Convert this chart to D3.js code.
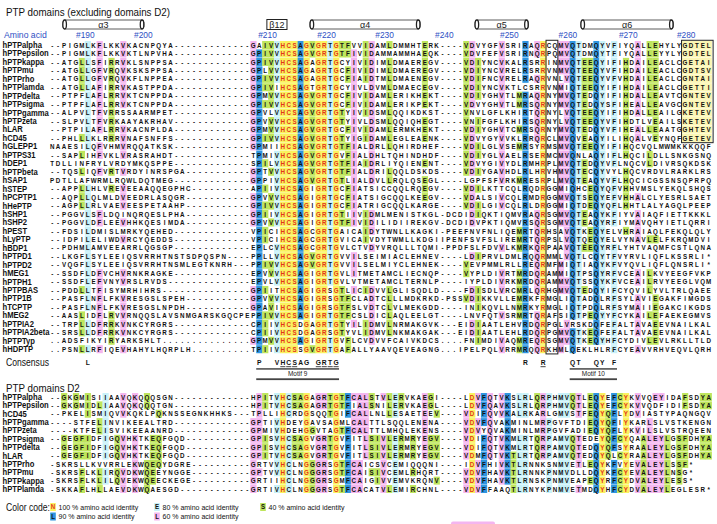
<!DOCTYPE html>
<html><head><meta charset="utf-8">
<script src="https://cdn.jsdelivr.net/npm/d3@7"></script>
<style>body{margin:0;background:#fff}svg{display:block}</style>
</head><body>
<svg id="c" width="717" height="524"></svg>
<script>
// ---------------- DATA ----------------
const upperNames = ["hPTPalpha","hPTPepsilon","hPTPkappa","hPTPmu","hPTPrho","hPTPlamda","hPTPdelta","hPTPsigma","hPTPgamma","hPTPzeta","hLAR","hCD45","hGLEPP1","hPTPS31","hDEP1","hPTPbeta","hSAP1","hSTEP","hPCPTP1","hHePTP","hSHP1","hSHP2","hPEST","hLyPTP","hBDP1","hPTPD1","hPTPD2","hMEG1","hPTPH1","hPTPBAS","hPTP1B","hTCPTP","hMEG2","hPTPIA2","hPTPIA2beta","hPTPTyp","hHDPTP"];
const upperNterm = ["--PIGMLKFLKKVKACNPQYA","--PIGMLKFLKKVKTLNPVHA","--ATGLLSFIRRVKLSNPPSA","--ATGLLGFVRQVKSKSPPSA","--ATGLLGFVRQVKFLNPPEA","--ATGLLAFIRRVKASTPPDA","--PTPFLAFLRRVKTCNPPDA","--PTPFLAFLRRVKTCNPPDA","--ALPVLTFVRRSSAARMPET","--SLPVLTFVRKAAYAKRHAV","--PTPILAFLRRVKACNPLDA","--PHLLLKLRRRVNAFSNFFS","NAAESILQFVHMVRQQATKSK","--SAPLIHFVKLVRASRAHDT","TDLLINFRYLVRDYMKQSPPE","--TQSLIQFVRTVRDYINRSPGA","PDTLLAFWRMLRQWLDQTMEG","--APPLLHLVREVEEAAQQEGPHC","--AQPLLQLMLDVEEDRLASQGR","--AGPLLRLVAEVEESPETAAHP","--PGGVLSFLDQINQRQESLPHA","--PGGVLDFLEEVHHKQESIMDA","--FDSILDMISLMRKYQEHED","--IDPILELIWDVRCYQEDDS","--PDHMLAMVEEARRLQGSGP","--LKGFLSYLEEIQSVRRHTNSTSDPQSPN","--VQGFLSYLEEIQSVRRHTNSMLEGTKNRH","--SSDFLDFVCHVRNKRAGKE","--SSDFLEFVNYVRSLRVDS","--PDDLLTFISYMRHIHRS","--PASFLNFLFKVRESGSLSPEH","--PASFLNFLFKVRESGSLNPDH","--AASLIDFLRVVRNQQSLAVSNMGARSKGQCPE","--TRPLLDFRRKVNKCYRGRS","--SRSLLDFRRKVNKCYRGRS","..ADSFIKYIRYARKSHLT","..PSNLLRFIQEVHAHYLHQRPLH"];
const upperGapChar = ["-","-","-","-","-","-","-","-","-","-","-","-","-","-","-","-","-","-","-","-","-","-","-","-","-","-","-","-","-","-","-","-","-","-","-",".","."];
const upperCore = ["GAIVVHCSAGVGRTGTFV","GPIVVHCSAGVGRTGTFI","GPIVVHCSAGAGRTGCYI","GPLVVHCSAGAGRTGCFI","GPIVVHCSAGAGRTGCFI","GPIVIHCSAGTGRTGCYI","GPMVVHCSAGVGRTGCFI","GPIVVHCSAGVGRTGCFI","GPVLVHCSAGVGRTGTYI","GPVVVHCSAGVGRTGTYI","GPMVVHCSAGVGRTGCFI","GPIVVHCSAGVGRTGTYI","GPMIIHCSAGVGRTGTFI","TPMIVHCSAGVGRTGVFI","SPILVHCSAGVGRTGTFI","GPTVVHCSAGVGRTGTFI","GPPIVHCSAGVGRTGTLI","APIIVHCSAGIGRTGCFI","GPVVVHCSAGIGRTGCFI","GPIVVHCSAGIGRTGCFI","GPIIVHCSAGIGRTGTII","GPVVVHCSAGIGRTGTFI","VPICIHCSAGCGRTGAIC","VPICIHCSAGCGRTGVIC","EPLCVHCSAGCGRTGVLC","PPLLVHCSAGVGRTGVVI","PPIVVHCSAGVGRTGVVI","EPVVVHCSAGIGRTGVLI","EPVLVHCSAGIGRTGVLV","GPIITHCSAGIGRSGTLI","GPVVVHCSAGIGRSGTFC","GPAVIHCSAGIGRSGTFS","PPIVVHCSAGIGRTGTFC","CPIIVHCSDGAGRTGTYI","CPIIVHCSDGAGRSGTYV","GPMVVHCSAGIGRTGVFL","TPIIVHCSSGVGRTGAFA"];
const upperCterm = [
"VIDAMLDMMHTERK----VDVYGFVSRIRAQRCQMVQTDMQYVFIYQALLEHYLYGDTEL",
"VIDAMMAMMHAEQK----VDVFEFVSRIRNQRPQMVQTDMQYTFIYQALLEYYLYGDTEL",
"VIDIMLDMAEREGV----VDIYNCVKALRSRRINMVQTEEQYIFIHDAILEACLCGETAI",
"VIDIMLDMAEREGV----VDIYNCVRELRSRRVNMVQTEEQYVFIHDAILEACLCGDTSV",
"AIDTMLDMAENEGV----VDIFNCVRELRAQRVNLVQTEEQYVFVHDAILEACLCGNTAI",
"VLDVMLDMAECEGV----VDIYNCVKTLCSRRVNMIQTEEQYIFIHDAILEACLCGETTI",
"VIDAMLERIKHEKT----VDIYGHVTLMRAQRNYMVQTEDQYIFIHDALLEAVTCGNTEV",
"VIDAMLERIKPEKT----VDVYGHVTLMRSQRNYMVQTEDQYSFIHEALLEAVGCGNTEV",
"VIDSMLQQIKDKST----VNVLGFLKHIRTQRNYLVQTEEQYIFIHDALLEAILGKETEV",
"VLDSMLQQIQHEGT----VNIFGFLKHIRSQRNYLVQTEEQYVFIHDTLVEAILSKETEV",
"VIDAMLERMKHEKT----VDIYGHVTCMRSQRNYMVQTEDQYVFIHEALLEAATGGHTEV",
"GIDAMLEGLEAENK----VDVYGYVVKLRRQRCLMVQVEAQYILIHQALVEYNQFGETEV",
"ALDRLLQHIRDHEF----VDILGLVSEMRSYRMSMVQTEEQYIFIHQCVQLMWMKKKQQF",
"ALDHLTQHINDHDF----VDIYGLVAELRSERMCMVQNLAQYIFLHQCILDLLSNKGSNQ",
"AIDRLIYQIENENT----VDVYGIVYDLRMHRPLMVQTEDQYVFLNQCVLDIVRSQKDSK",
"ALDRILQQLDSKDS----VDIYGAVHDLRLHRVHMVQTECQYVYLHQCVRDVLRARKLRS",
"ALDVLLRQLQSEGL----LGPFSFVRKMRESRPLMVQTEAQYVFLHQCICGSSNSQPRPQ",
"ATSICCQQLRQEGV----VDILKTTCQLRQDRGGMIQHCEQYQFVHHVMSLYEKQLSHQS",
"ATSIGCQQLKEEGV----VDALSIVCQLRMDRGGMVQTSEQYEFVHHALCLYESRLSAET",
"ATRIGCQQLKARGE----VDILGIVCQLRLDRGGMIQTDEQYQFLHHTLALYAGQLPEEP",
"VIDMLMENISTKGL-DCDIDIQKTIQMVRAQRSGMVQTEAQYKFIYVAIAQFIETTKKKL",
"VIDILIDIIREKGV-DCDIDVPKTIQMVRSQRSGMVQTEAQYRFIYMAVQHYIETLQRRI",
"AIDYTWNLLKAGKI-PEEFNVFNLIQEMRTQRHSAVQTKEQYELVHRAIAQLFEKQLQLY",
"AIVDYTWMLLKDGIIPENFSVFSLIREMRTQRPSLVQTQEQYELVYNAVLELFKRQMDVI",
"TVDYVRQLLLTQMI-PPDFSLFDVVLKMRKQRPAAVQTEEQYRFLYHTVAQMFCSTLQNA",
"LSEIMIACLEHNEV----LDIPRVLDMLRQQRMMLVQTLCQYTFVYRVLIQFLKSSRLI*",
"LSELMIYCLEHNEK----VEVPMMLRLLREQRMFMIQTIAQYKFVYQVLIQFLQNSRLI*",
"TMETAMCLIECNQP----VYPLDIVRTMRDQRAMMIQTPSQYRFVCEAILKVYEEGFVKP",
"TMETAMCLTERNLP----IYPLDIVRKMRDQRAMMVQTSSQYKFVCEAILRVYEEGLVQM",
"CIDVVLGLISQDLD----FDISDLVRCMRLQRHGMVQTEDQYIFCYQVILYVLTRLQAEE",
"LADTCLLLMDKRKD-PSSVDIKKVLLEMRKFRMGLIQTADQLRFSYLAVIEGAKFIMGDS",
"LVDTCLVLMEKGDD----INIKQVLLNMRKYRMGLIQTPDQLRFSYMAIIEGAKCIKGDS",
"SLDICLAQLEELGT----LNVFQTVSRMRTQRAFSIQTPEQYYFCYKAILEFAEKEGMVS",
"LIDMVLNRMAKGVK---EIDIAATLEHVRDQRPGLVRSKDQFEFALTAVAEEVNAILKAL",
"LIDMVLNKMAKGAK---EIDIAATLEHLRDQRPGMVQTKEQFEFALTAVAEEVNAILKAL",
"CVDVVFCAIVKDCS....FNIMDIVAQMREQRSGMVQTKEQYHFCYDIVLEVLRKLLTLD",
"LLYAAVQEVEAGNG...IPELPQLVRRMRQQRKHMLQEKLHLRFCYEAVVRHVEQVLQRH"];

const lowerNames = ["hPTPalpha","hPTPepsilon","hCD45","hPTPgamma","hPTPzeta","hPTPsigma","hPTPdelta","hLAR","hPTPrho","hPTPmu","hPTPkappa","hPTPlamda"];
const lowerNterm = ["--GKGMISIIAAVQKQQQSGN","--GKGMIDLIAAVQKQQQTGN","--PKELISMIQVVKQKLPQKNSSEGNKHHKS","----STFELINVIKEEALTRD","----KTFELISVIKEEAANRD","--GEGFIDFIGQVHKTKEQFGQD","--GEGFIDFIGQVHKTKEQFGQD","--GEGFIDFIGQVHKTKEQFGQD","-SKRSLLKVVRRLEKWQEQYDGRE","-SKRSFLKLIRQVDKWQEEYNGGE","-SKRSFLKLILQVEKWQEECKEGE","-SKKAFLHLLAEVDKWQAESGD"];
const lowerCore = ["HPITVHCSAGAGRTGTFC","HPITVHCSAGAGRTGTFI","TPLLIHCRDGSQQTGIFC","GPTIVHDEYGAVSAGMLC","GPMIVHDEHGGVTAGTFC","GPISVHCSAGVGRTGVFI","GPISVHCSAGVGRTGVFI","GPITVHCSAGVGRTGVFI","GRTVVHCLNGGGRSGTFC","GPTVVHCLNGGGRSGTFC","GRTIIHCLNGGGRSGMFC","GRTIVHCLNGGGRSGTFC"];
const lowerCterm = [
"ALSTVLERVKAEGI----LDVFQTVKSLRLQRPHMVQTLEQYEFCYKVVQEYIDAFSDYA",
"ALSNILERVKAEGL----LDVFQAVKSLRLQRPHMVQTLEQYEFCYKVVQDFIDIFSDYA",
"ALLNLLESAETEEV----VDIFQVVKALRKARLGMVSTFEQYQFLYDVIASTYPAQNGQV",
"ALTTLSQQLENENA----VDVFQVAKMINLMRPGVFTDIEQYQFIYKARLSLVSTKENGN",
"ALTTLMHQLEKENS----VDVYQVAKMINLMRPGVFADIEQYQFLYKVILSLVSTRQEEN",
"TLSIVLERMRYEGV----VDIFQTVKMLRTQRPAMVQTEDEYQFCYQAALEYLGSFDHYA",
"TLSIVLERMRYEGV----VDIFQTVKMLRTQRPAMVQTEDQYQFSYRAALEYLGSFDHYA",
"TLSIVLERMRYEGV----VDMFQTVKTLRTQRPAMVQTEDQYQLCYRAALEYLGSFDHYA",
"AICSVCEMIQQQNI----IDVFHIVKTLRNNKSNMVETLEQYKFVYEVALEYLSSF*",
"AISIVCEMLRHQRT----VDVFHAVKTLRNNKPNMVDLLDQYKFCYEVALEYLNSG*",
"AIGIVVEMVKRQNV----VDVFHAVKTLRNSKPNMVEAPEQYRFCYDVALEYLESS*",
"ACATVLEMIRCHNL----VDVFFAAQTLRNYKPNMVETMDQYHFCYDVALEYLEGLESR*"];

const consensusCols = [6,35,38,39,40,41,42,43,45,46,47,48,80,83,88,89,92,93,95];
const consensusRes  = ["L","P","V","H","C","S","A","G","G","R","T","G","R","R","Q","T","Q","Y","F"];
const consensusUnderlined = [39,40,41,45,46,47,48,83];

const tickLabels = ["#190","#200","#210","#220","#230","#240","#250","#260","#270","#280"];
const tickCols   = [5.6,15.4,36.4,46.4,56.2,66.3,77.3,87.2,97.4,107.2];

const structNames = ["α3","β12","α4","α5","α6"];
const structType  = ["helix","strand","helix","helix","helix"];
const structFrom  = [1.8,36.3,43.6,71.5,89.4];
const structTo    = [15.5,39.7,62.2,80.5,105.0];

const motifNames = ["Motif 9","Motif 10"];
const motifFrom  = [35,88];
const motifTo    = [48,95];

const legendCodes  = ["N","L","E","L","S"];
const legendLabels = ["100 % amino acid identity","90 % amino acid identity","80 % amino acid identity","60 % amino acid identity","40 % amino acid identity"];
const identityLevels = [1.0,0.9,0.8,0.6,0.4];

// ---------------- STYLE ----------------
const FONT = "'Liberation Sans', Arial, Helvetica, sans-serif";
const levelFill = ["#faf25e","#2e95e0","#c8f1f9","#f4b5ef","#bee55c"];
const levelText = ["#e3351a","#111","#111","#111","#111"];
const NCOL = 112;
const x = d3.scaleLinear().domain([0, NCOL-1]).range([52.2, 52.2 + (NCOL-1)*5.914]);
const cw = x(1) - x(0);
const yUp = d3.scaleLinear().domain([0, upperNames.length-1]).range([45, 349.2]);
const yLow = d3.scaleLinear().domain([0, lowerNames.length-1]).range([397, 489]);
const rh = yUp(1) - yUp(0);

const svg = d3.select("#c").style("font-family", FONT);

// condensed text helper (taller glyphs, narrower width, as in the reference)
function ctext(parent, tx, ty, str, size, sx, opts={}){
  const t = parent.append("text")
    .attr("transform", `translate(${tx},${ty}) scale(${sx},1)`)
    .attr("dy","0.36em").attr("font-size", size)
    .attr("fill", opts.fill || "#111")
    .attr("text-anchor", opts.anchor || "start")
    .text(str);
  if(opts.weight) t.attr("font-weight", opts.weight);
  return t;
}

function build(nt, pad, core, ct){
  return (nt.padEnd(34, pad) + core + ct).padEnd(NCOL, " ").slice(0, NCOL);
}
const upperSeqs = upperNames.map((n,i)=>build(upperNterm[i], upperGapChar[i], upperCore[i], upperCterm[i]));
const lowerSeqs = lowerNames.map((n,i)=>build(lowerNterm[i], "-", lowerCore[i], lowerCterm[i]));

function conservation(seqs){
  const n = seqs.length;
  return d3.range(NCOL).map(c=>{
    const letters = seqs.map(s=>s[c]).filter(ch=>/[A-Z]/.test(ch));
    const counts = d3.rollups(letters, v=>v.length, d=>d).sort((a,b)=>b[1]-a[1]);
    if(!counts.length) return {res:null, level:-1};
    const f = counts[0][1]/n;
    return {res:counts[0][0], level: identityLevels.findIndex(t=>f >= t-1e-9)};
  });
}

function drawBlock(names, seqs, y, rowH, override){
  const cons = conservation(seqs);
  const g = svg.append("g");
  g.selectAll("text.lab").data(names).join("text")
    .attr("transform", (d,i)=>`translate(2.5,${y(i)}) scale(0.92,1)`)
    .attr("dy","0.36em").attr("font-size", 8.3).attr("font-weight", 700).attr("fill","#111").text(d=>d);
  const cells = [];
  seqs.forEach((s,r)=>{
    for(let c=0;c<NCOL;c++){
      const ch = s[c];
      if(ch===" ") continue;
      const lvl = (cons[c].level>=0 && ch===cons[c].res) ? cons[c].level : -1;
      const ov = override ? override(r,c) : false;
      cells.push({r,c,ch,lvl,ov});
    }
  });
  g.selectAll("rect.cell").data(cells.filter(d=>d.lvl>=0 || d.ov)).join("rect")
    .attr("x", d=>x(d.c)-cw/2).attr("y", d=>y(d.r)-rowH/2+0.2)
    .attr("width", cw+0.3).attr("height", rowH-0.4)
    .attr("fill", d=> d.ov ? "#fbf6b4" : levelFill[d.lvl]);
  g.selectAll("text.res").data(cells).join("text")
    .attr("transform", d=>`translate(${x(d.c)},${y(d.r)}) scale(0.84,1)`)
    .attr("dy","0.36em")
    .attr("text-anchor","middle").attr("font-size", 7.4).attr("font-weight", 700)
    .attr("fill", d=> (!d.ov && d.lvl===0) ? levelText[0] : "#111")
    .text(d=>d.ch);
  return g;
}

// Titles
ctext(svg, 6, 12.5, "PTP domains (excluding domains D2)", 10.2, 0.96);
ctext(svg, 6, 388, "PTP domains D2", 10.2, 0.96);

// Secondary structure
const sg = svg.append("g");
structNames.forEach((nm,i)=>{
  const x0 = x(structFrom[i]), x1 = x(structTo[i]), yc = 24.5, h = 9;
  if(structType[i]==="helix"){
    sg.append("rect").attr("x",x0).attr("y",yc-h/2).attr("width",x1-x0).attr("height",h)
      .attr("rx",2.5).attr("fill","#fff").attr("stroke","#333").attr("stroke-width",0.8);
    sg.append("ellipse").attr("cx",x0+1.8).attr("cy",yc).attr("rx",1.8).attr("ry",h/2)
      .attr("fill","#fff").attr("stroke","#222").attr("stroke-width",1.3);
    sg.append("ellipse").attr("cx",x1-1.8).attr("cy",yc).attr("rx",1.8).attr("ry",h/2)
      .attr("fill","none").attr("stroke","#222").attr("stroke-width",1.3);
  } else {
    sg.append("rect").attr("x",x0).attr("y",yc-h/2-0.5).attr("width",x1-x0).attr("height",h+1)
      .attr("fill","#fff").attr("stroke","#222").attr("stroke-width",1);
  }
  sg.append("text").attr("x",(x0+x1)/2).attr("y",yc).attr("dy","0.36em").attr("text-anchor","middle")
    .attr("font-size",9).attr("fill","#222").text(nm);
});

// header row
ctext(svg, 4, 34.5, "Amino acid", 9, 0.96, {fill:"#2e4fc4"});
const tg = svg.append("g");
tickLabels.forEach((t,i)=> ctext(tg, x(tickCols[i]), 34.5, t, 9, 0.93, {fill:"#2e4fc4", anchor:"middle"}));

// upper block
drawBlock(upperNames, upperSeqs, yUp, rh, (r,c)=> r<=11 && c>=107);
svg.append("rect").attr("x",x(107)-cw/2-0.5).attr("y",yUp(0)-rh/2-0.5)
  .attr("width",x(111)-x(107)+cw+2).attr("height",yUp(11)-yUp(0)+rh+1)
  .attr("fill","none").attr("stroke","#222").attr("stroke-width",1);
svg.append("rect").attr("x",x(84)-cw/2).attr("y",yUp(0)-rh/2-0.5)
  .attr("width",x(85)-x(84)+cw).attr("height",yUp(upperNames.length-1)-yUp(0)+rh+1)
  .attr("fill","none").attr("stroke","#222").attr("stroke-width",1);

// consensus
const yC = 362.5;
ctext(svg, 6, yC, "Consensus", 10, 0.86);
const cg = svg.append("g");
consensusRes.forEach((r,i)=> ctext(cg, x(consensusCols[i]), yC, r, 7.8, 0.86, {anchor:"middle", weight:700}));
svg.append("g").selectAll("line").data(consensusUnderlined).join("line")
  .attr("x1",d=>x(d)-cw/2+0.4).attr("x2",d=>x(d)+cw/2-0.4).attr("y1",yC+4.2).attr("y2",yC+4.2)
  .attr("stroke","#111").attr("stroke-width",0.8);

// motifs
motifNames.forEach((m,i)=>{
  const x0 = x(motifFrom[i])-cw/2, x1 = x(motifTo[i])+cw/2;
  svg.append("rect").attr("x",x0).attr("y",368).attr("width",x1-x0).attr("height",1.8).attr("fill","#666");
  svg.append("rect").attr("x",x0).attr("y",378.3).attr("width",x1-x0).attr("height",1.8).attr("fill","#444");
  ctext(svg, (x0+x1)/2, 374, m, 6.8, 0.95, {anchor:"middle", fill:"#222"});
});

// lower block
drawBlock(lowerNames, lowerSeqs, yLow, yLow(1)-yLow(0), null);

// legend
ctext(svg, 6, 507.5, "Color code:", 10, 0.86);
const legPos = [[53,507],[53,516.5],[157,507],[157,516.5],[263,507]];
const lg = svg.append("g");
legendLabels.forEach((lab,i)=>{
  const [lx,ly] = legPos[i];
  lg.append("rect").attr("x",lx-2.8).attr("y",ly-4).attr("width",5.6).attr("height",8).attr("fill",levelFill[i]);
  ctext(lg, lx, ly, legendCodes[i], 6.8, 0.9, {anchor:"middle", weight:700, fill:levelText[i]});
  ctext(lg, lx+5.5, ly, lab, 7, 1);
});
svg.append("rect").attr("x",451).attr("y",521.5).attr("width",44).attr("height",4).attr("rx",2).attr("fill","#f4b5ef");
</script>
</body></html>
